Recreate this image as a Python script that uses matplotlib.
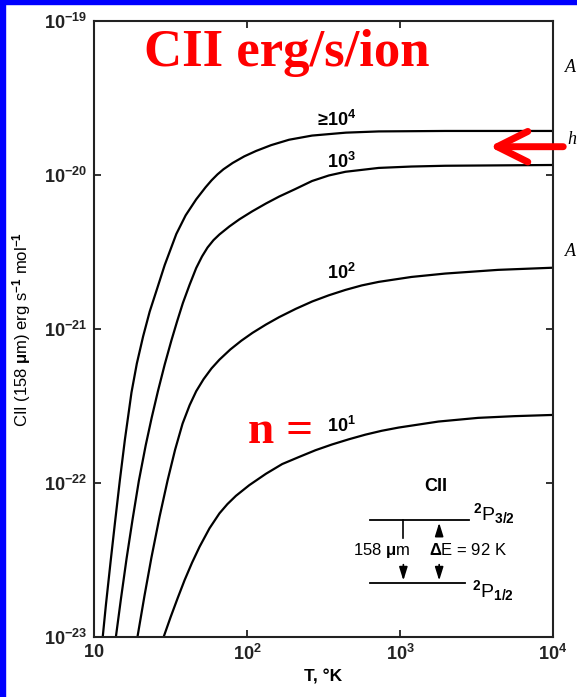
import matplotlib
matplotlib.use("Agg")
import matplotlib.pyplot as plt
import numpy as np
from matplotlib.patches import Rectangle

# ---- data, as log10(T [K]) and log10(L [erg/s/ion]) ----
lt_n4 = [1.057, 1.078, 1.109, 1.137, 1.169, 1.202, 1.245, 1.280, 1.321, 1.364, 1.408, 1.462,
         1.538, 1.599, 1.668, 1.729, 1.768, 1.807, 1.846, 1.906, 1.982, 2.059, 2.158, 2.275,
         2.425, 2.646, 2.861, 3.297, 4.0]
ll_n4 = [-23.0, -22.790, -22.506, -22.258, -21.982, -21.718, -21.412, -21.224, -21.048, -20.887,
         -20.752, -20.585, -20.383, -20.262, -20.158, -20.080, -20.035, -19.996, -19.963, -19.922,
         -19.879, -19.844, -19.806, -19.771, -19.744, -19.725, -19.717, -19.714, -19.714]

lt_n3 = [1.143, 1.176, 1.213, 1.252, 1.293, 1.338, 1.377, 1.418, 1.462, 1.506, 1.543, 1.581,
         1.625, 1.668, 1.706, 1.742, 1.781, 1.820, 1.885, 1.950, 2.034, 2.124, 2.210, 2.314,
         2.425, 2.535, 2.644, 2.861, 3.075, 3.295, 4.0]
ll_n3 = [-23.0, -22.753, -22.490, -22.237, -21.987, -21.755, -21.576, -21.403, -21.231, -21.074,
         -20.951, -20.831, -20.712, -20.604, -20.529, -20.471, -20.423, -20.386, -20.334, -20.288,
         -20.236, -20.185, -20.140, -20.092, -20.039, -20.003, -19.979, -19.954, -19.945, -19.940,
         -19.935]

lt_n2 = [1.284, 1.330, 1.375, 1.429, 1.481, 1.530, 1.579, 1.625, 1.668, 1.716, 1.768, 1.820,
         1.891, 1.963, 2.036, 2.124, 2.210, 2.319, 2.427, 2.535, 2.644, 2.750, 2.861, 3.075,
         3.295, 3.641, 4.0]
ll_n2 = [-23.0, -22.732, -22.486, -22.217, -21.983, -21.784, -21.614, -21.495, -21.404, -21.326,
         -21.256, -21.199, -21.133, -21.076, -21.025, -20.971, -20.923, -20.869, -20.821, -20.781,
         -20.746, -20.717, -20.694, -20.662, -20.640, -20.616, -20.602]

lt_n1 = [1.455, 1.501, 1.547, 1.592, 1.641, 1.690, 1.755, 1.820, 1.872, 1.928, 2.015, 2.124,
         2.230, 2.340, 2.448, 2.555, 2.666, 2.774, 2.880, 2.991, 3.251, 3.511, 3.746, 4.0]
ll_n1 = [-23.0, -22.870, -22.747, -22.631, -22.517, -22.414, -22.294, -22.197, -22.137, -22.083,
         -22.014, -21.940, -21.877, -21.831, -21.787, -21.750, -21.716, -21.686, -21.661, -21.640,
         -21.601, -21.577, -21.566, -21.558]

curve_labels = [r"$\geq\!10^4$", r"$10^3$", r"$10^2$", r"$10^1$"]
x_ticks = [10, 100, 1000, 10000]
x_ticklabels = [r"$10$", r"$10^2$", r"$10^3$", r"$10^4$"]
y_ticks = [1e-23, 1e-22, 1e-21, 1e-20, 1e-19]
y_ticklabels = [r"$10^{-23}$", r"$10^{-22}$", r"$10^{-21}$", r"$10^{-20}$", r"$10^{-19}$"]

plt.rcParams["font.family"] = ["Liberation Sans", "DejaVu Sans"]
plt.rcParams["mathtext.fontset"] = "custom"
plt.rcParams["mathtext.rm"] = "Liberation Sans:bold"
plt.rcParams["mathtext.it"] = "Liberation Sans:bold"
plt.rcParams["mathtext.bf"] = "Liberation Sans:bold"

fig = plt.figure(figsize=(5.77, 6.97), dpi=100)
fig.patch.set_facecolor("white")

# blue frame strips (top and left)
fig.patches.append(Rectangle((0, 1 - 4 / 697), 1, 4 / 697, transform=fig.transFigure,
                             color="#0000ff", zorder=10))
fig.patches.append(Rectangle((0, 0), 5 / 577, 1, transform=fig.transFigure,
                             color="#0000ff", zorder=10))

ax = fig.add_axes([94 / 577, 60 / 697, 459 / 577, 616 / 697])
ax.set_xscale("log")
ax.set_yscale("log")
ax.set_xlim(10, 10000)
ax.set_ylim(1e-23, 1e-19)

for lt, ll in [(lt_n4, ll_n4), (lt_n3, ll_n3), (lt_n2, ll_n2), (lt_n1, ll_n1)]:
    ax.plot(10 ** np.array(lt), 10 ** np.array(ll), color="black", lw=1.6,
            solid_joinstyle="round")

# ---- axes styling ----
for s in ax.spines.values():
    s.set_linewidth(1.5)
    s.set_color("#222222")
ax.set_xticks(x_ticks)
ax.set_xticklabels(x_ticklabels)
ax.set_yticks(y_ticks)
ax.set_yticklabels(y_ticklabels)
ax.minorticks_off()
ax.tick_params(which="both", direction="in", length=5, width=1.3, top=True, right=True,
               labelsize=13, colors="#222222", pad=5)
ax.set_xlabel("T, °K", fontsize=12.5, fontweight="bold", labelpad=4)
ax.set_ylabel(r"CII (158 $\mu$m) erg s$^{-1}$ mol$^{-1}$", fontsize=12)
ax.yaxis.set_label_coords(-0.133, 0.5)

# ---- curve labels ----
label_pos = [(0.525, 0.839), (0.538, 0.771), (0.538, 0.591), (0.538, 0.343)]
for txt, (fx, fy) in zip(curve_labels, label_pos):
    ax.text(fx, fy, txt, transform=ax.transAxes, ha="center", va="center", fontsize=13)

# ---- red annotations ----
ax.text(0.419, 0.927, "CII erg/s/ion", transform=ax.transAxes, ha="center", va="baseline",
        fontsize=38, color="red", fontweight="bold", family="Liberation Serif")
ax.text(0.407, 0.315, "n =", transform=ax.transAxes, ha="center", va="baseline",
        fontsize=34, color="red", fontweight="bold", family="Liberation Serif")
ax.annotate("", xy=(486.7, 697 - 146.7), xytext=(566, 697 - 146.7),
            xycoords="figure pixels", textcoords="figure pixels", annotation_clip=False,
            arrowprops=dict(arrowstyle="->,head_length=2.2,head_width=1.1", color="red",
                            lw=5, capstyle="round", joinstyle="round"))

# italic letters at the right edge
for ypx, ch in [(68, "A"), (140, "h"), (252, "A")]:
    fig.text(576 / 577, 1 - ypx / 697, ch, fontsize=13, style="italic",
             family="Liberation Serif", va="center", ha="right")

# ---- energy level inset ----
tr = ax.transAxes
ax.plot([0.601, 0.817], [0.190, 0.190], color="black", lw=1.3, transform=tr)
ax.plot([0.601, 0.808], [0.0872, 0.0872], color="black", lw=1.3, transform=tr)
ax.plot([0.674, 0.674], [0.190, 0.161], color="black", lw=1.2, transform=tr)
arrow_kw = dict(arrowstyle="-|>,head_length=0.8,head_width=0.25", color="black", lw=1.2)
ax.annotate("", xy=(0.674, 0.0872), xytext=(0.674, 0.122), xycoords=tr, textcoords=tr,
            arrowprops=arrow_kw)
ax.annotate("", xy=(0.752, 0.190), xytext=(0.752, 0.161), xycoords=tr, textcoords=tr,
            arrowprops=arrow_kw)
ax.annotate("", xy=(0.752, 0.0872), xytext=(0.752, 0.122), xycoords=tr, textcoords=tr,
            arrowprops=arrow_kw)
ax.text(0.627, 0.141, r"158 $\mu$m", transform=tr, ha="center", va="center", fontsize=12)
ax.text(0.815, 0.141, r"$\Delta$E = 92 K", transform=tr, ha="center", va="center", fontsize=12)
ax.text(0.745, 0.244, "CII", transform=tr, ha="center", va="center", fontsize=13, fontweight="bold")
ax.text(0.826, 0.200, r"$^2$P$_{3/2}$", transform=tr, ha="left", va="center", fontsize=14)
ax.text(0.824, 0.076, r"$^2$P$_{1/2}$", transform=tr, ha="left", va="center", fontsize=14)

fig.savefig("out.png", dpi=100)
